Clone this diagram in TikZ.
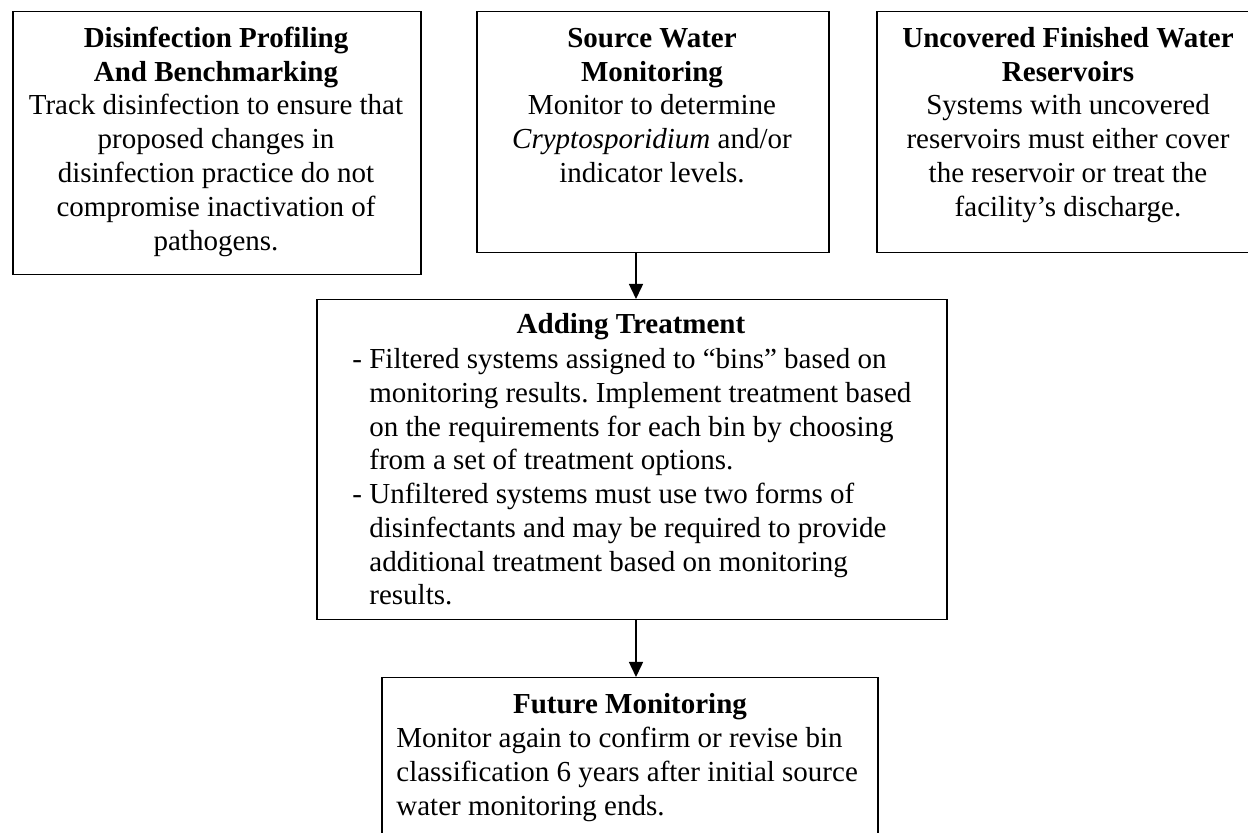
\documentclass[tikz,border=0pt]{standalone}
\usepackage{fontspec}
\setmainfont{Liberation Serif}
\usetikzlibrary{arrows.meta}
\frenchspacing
\tikzset{
  box/.style={draw=black, line width=0.75pt, fill=none, inner sep=0pt, anchor=north west},
  txt/.style={inner sep=0pt, font=\fontsize{14.5}{16.9}\selectfont},
  ctxt/.style={txt, align=center, anchor=north},
  ltxt/.style={txt, align=left, anchor=north west},
  arr/.style={line width=0.75pt, -{Triangle[length=7.5pt,width=7pt]}}
}
\newcommand{\fl}{\rule{0pt}{12pt}}
\begin{document}
\begin{tikzpicture}[x=0.5pt, y=-0.5pt]
  \useasboundingbox (0,0) rectangle (1248,833);
  % boxes
  \node[box, minimum width=204pt, minimum height=131.5pt] (b1) at (12,11) {};
  \node[box, minimum width=176pt, minimum height=120.5pt] (b2) at (476,11) {};
  \node[box, minimum width=192pt, minimum height=120.5pt] (b3) at (876,11) {};
  \node[box, minimum width=315pt, minimum height=160pt] (b4) at (316,299) {};
  \node[box, minimum width=248pt, minimum height=90pt] (b5) at (381,677) {};
  % texts
  \node[ctxt] (t1) at (216,23) {\fl\textbf{Disinfection Profiling}\\ \textbf{And Benchmarking}\\ Track disinfection to ensure that\\ proposed changes in\\ disinfection practice do not\\ compromise inactivation of\\ pathogens.};
  \node[ctxt] (t2) at (652,23) {\fl\textbf{Source Water}\\ \textbf{Monitoring}\\ Monitor to determine\\ \textit{Cryptosporidium} and/or\\ indicator levels.};
  \node[ctxt] (t3) at (1068,23) {\fl\textbf{Uncovered Finished Water}\\ \textbf{Reservoirs}\\ Systems with uncovered\\ reservoirs must either cover\\ the reservoir or treat the\\ facility’s discharge.};
  \node[ctxt] (t4) at (631,309) {\fl\textbf{Adding Treatment}};
  \node[ltxt] (t4b) at (369,344) {\fl\llap{-\ }Filtered systems assigned to “bins” based on\\ monitoring results. Implement treatment based\\ on the requirements for each bin by choosing\\ from a set of treatment options.\\ \llap{-\ }Unfiltered systems must use two forms of\\ disinfectants and may be required to provide\\ additional treatment based on monitoring\\ results.};
  \node[ctxt] (t5) at (630,689) {\fl\textbf{Future Monitoring}};
  \node[ltxt] (t5b) at (396,723) {\fl Monitor again to confirm or revise bin\\ classification 6 years after initial source\\ water monitoring ends.};
  % connectors
  \coordinate (ax) at (636,0);
  \draw[arr] (b2.south -| ax) -- (b4.north -| ax);
  \draw[arr] (b4.south -| ax) -- (b5.north -| ax);
\end{tikzpicture}
\end{document}
